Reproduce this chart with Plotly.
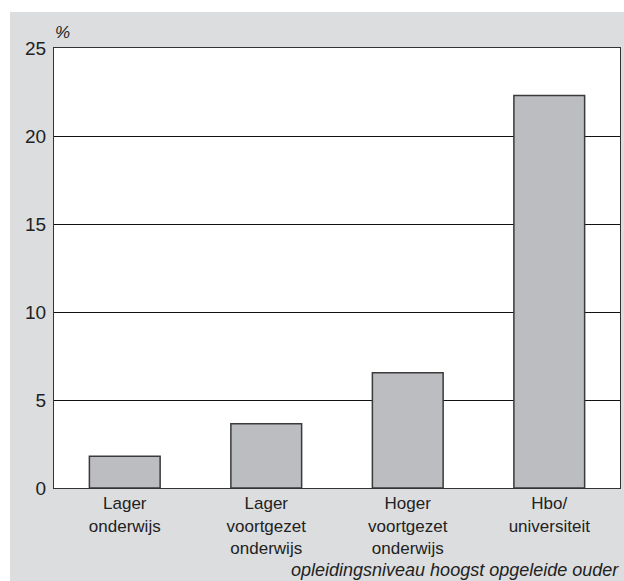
import plotly.graph_objects as go

categories = ["Lager<br>onderwijs", "Lager<br>voortgezet<br>onderwijs", "Hoger<br>voortgezet<br>onderwijs", "Hbo/<br>universiteit"]
values = [1.8, 3.65, 6.55, 22.3]
y_ticks = [0, 5, 10, 15, 20, 25]

FONT = "Liberation Sans, Arial, Helvetica, sans-serif"
GRAY_BG = "#dcdddf"

fig = go.Figure()
fig.add_trace(go.Bar(
    x=categories, y=values,
    marker=dict(color="#bcbdc1", line=dict(color="#3a3a3a", width=1.5)),
    hoverinfo="skip",
))

W, H = 624, 581
L, R, T, B = 54, 4, 48, 93
pw, ph = W - L - R, H - T - B

def px_x(px):
    return (px - L) / pw

def px_y(py):
    return (H - B - py) / ph

fig.update_layout(
    width=W, height=H,
    margin=dict(l=L, r=R, t=T, b=B, pad=0),
    paper_bgcolor=GRAY_BG,
    plot_bgcolor="white",
    showlegend=False,
    bargap=0.5,
    font=dict(family=FONT, size=17, color="#222"),
    xaxis=dict(
        showline=True, linecolor="#333", linewidth=1, mirror=True,
        showgrid=False, ticks="", tickfont=dict(size=17, color="#222"),
        ticklabelstandoff=0, fixedrange=True,
    ),
    yaxis=dict(
        range=[0, 25], tickvals=y_ticks, showline=True, linecolor="#333",
        linewidth=1, mirror=True, showgrid=True, gridcolor="#111", gridwidth=1,
        zeroline=False, ticks="", ticklabelstandoff=3,
        tickfont=dict(size=19, color="#222"), fixedrange=True,
    ),
    shapes=[
        dict(type="rect", xref="paper", yref="paper", x0=px_x(-5), x1=px_x(W + 5),
             y0=px_y(12), y1=px_y(-5), fillcolor="white", line=dict(width=0), layer="above"),
        dict(type="rect", xref="paper", yref="paper", x0=px_x(-5), x1=px_x(10),
             y0=px_y(H + 5), y1=px_y(12), fillcolor="white", line=dict(width=0), layer="above"),
    ],
    annotations=[
        dict(text="<i>%</i>", xref="paper", yref="paper", x=px_x(53), y=px_y(44),
             xanchor="left", yanchor="bottom", showarrow=False, font=dict(size=17, color="#222")),
        dict(text="<i>opleidingsniveau hoogst opgeleide ouder</i>", xref="paper", yref="paper",
             x=px_x(621), y=px_y(570), xanchor="right", yanchor="middle", showarrow=False,
             font=dict(size=18, color="#222")),
    ],
)

fig.write_html("out.html", config={"displayModeBar": False})

# remove default page margin so the figure fills the window exactly
with open("out.html", "r", encoding="utf-8") as f:
    html = f.read()
html = html.replace("<head>", "<head><style>html,body{margin:0;padding:0;overflow:hidden;}</style>", 1)
with open("out.html", "w", encoding="utf-8") as f:
    f.write(html)
